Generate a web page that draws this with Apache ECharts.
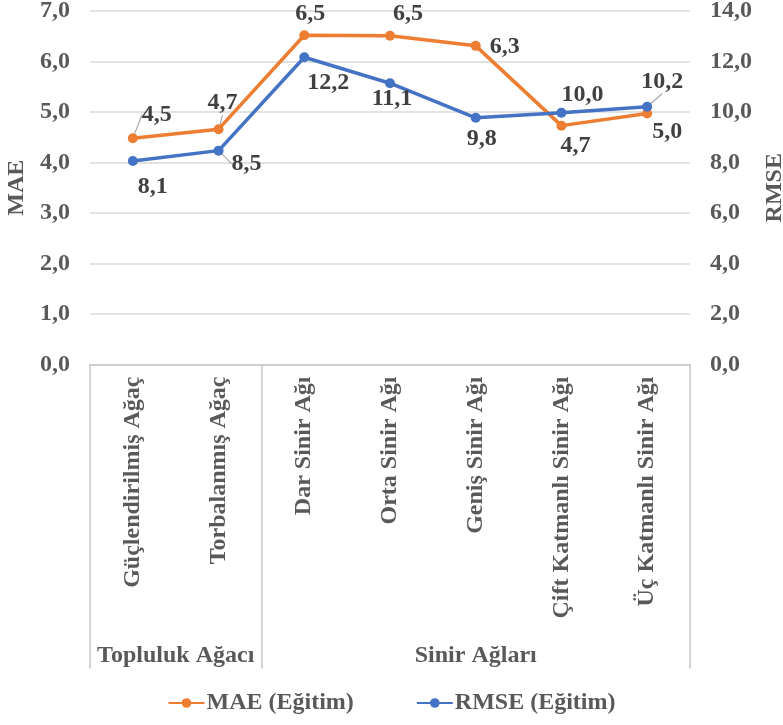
<!DOCTYPE html>
<html>
<head>
<meta charset="utf-8">
<script src="https://cdn.jsdelivr.net/npm/echarts@6/dist/echarts.min.js"></script>
<style>
  html, body { margin: 0; padding: 0; background: #fff; }
  #chart { width: 783px; height: 725px; }
</style>
</head>
<body>
<div id="chart"></div>
<script>
// Model names on the category axis
const categories = [
  'Güçlendirilmiş Ağaç', 'Torbalanmış Ağaç', 'Dar Sinir Ağı', 'Orta Sinir Ağı',
  'Geniş Sinir Ağı', 'Çift Katmanlı Sinir Ağı', 'Üç Katmanlı Sinir Ağı'
];
// Model families; each spans consecutive categories
const groupNames = ['Topluluk Ağacı', 'Sinir Ağları'];
const groupSizes = [2, 5];

// Training errors
const maeValues = [4.48, 4.66, 6.52, 6.51, 6.31, 4.73, 4.97];
const rmseValues = [8.06, 8.47, 12.17, 11.14, 9.77, 9.97, 10.21];

// Data label offsets from each point (px) and whether a leader line is drawn
const maeLabelOffsets = [[24, -23], [4, -26], [6, -21], [18, -22], [29, 1], [14, 20], [20, 18]];
const maeLeaders = [true, true, false, false, false, false, false];
const rmseLabelOffsets = [[20, 26], [28, 13], [24, 26], [2, 16], [6, 21], [21, -18], [15, -25]];
const rmseLeaders = [false, true, false, false, false, false, true];

const FONT = "'Liberation Serif', 'Times New Roman', serif";
const FONT_SIZE = 24;
const AXIS_GRAY = '#595959';
const LABEL_DARK = '#404040';
const BOX_GRAY = '#c6c6c6';

const fmt = v => Number(v).toFixed(1).replace('.', ',');

// Half-band axis used for the family labels and separators:
// 2*n+1 slots so group centres and boundaries fall on slots.
const halfSlots = categories.length * 2 + 1;
const groupAxisData = new Array(halfSlots).fill('');
const boundarySlots = [0];
let acc = 0;
groupNames.forEach((name, i) => {
  groupAxisData[acc * 2 + groupSizes[i]] = name;
  acc += groupSizes[i];
  boundarySlots.push(acc * 2);
});

function buildData(values, offsets, leaders) {
  return values.map((v, i) => ({
    value: v,
    label: { offset: offsets[i] },
    labelLine: { show: leaders[i] }
  }));
}

const labelStyle = {
  show: true,
  position: 'inside',
  align: 'center',
  verticalAlign: 'middle',
  formatter: p => fmt(p.value),
  fontFamily: FONT,
  fontWeight: 'bold',
  fontSize: FONT_SIZE,
  color: LABEL_DARK
};

const axisText = { fontFamily: FONT, fontWeight: 'bold', fontSize: FONT_SIZE, color: AXIS_GRAY };

const chart = echarts.init(document.getElementById('chart'), null, { renderer: 'canvas' });

chart.setOption({
  animation: false,
  backgroundColor: '#ffffff',
  textStyle: { fontFamily: FONT },
  grid: { left: 90, right: 93, top: 11, bottom: 360.5, containLabel: false, outerBoundsMode: 'none' },
  legend: {
    bottom: 5,
    left: 'center',
    itemWidth: 36,
    itemHeight: 12,
    itemGap: 62,
    textStyle: Object.assign({}, axisText, { padding: [0, 0, 0, -3] }),
    data: ['MAE (Eğitim)', 'RMSE (Eğitim)']
  },
  xAxis: [
    {
      type: 'category',
      data: categories,
      boundaryGap: true,
      axisLine: { show: true, lineStyle: { color: BOX_GRAY, width: 1.5 } },
      axisTick: { show: false },
      axisLabel: Object.assign({ interval: 0, rotate: 90, margin: 12 }, axisText)
    },
    {
      type: 'category',
      data: groupAxisData,
      boundaryGap: false,
      position: 'bottom',
      axisLine: { show: false },
      axisTick: {
        show: true,
        length: 304,
        interval: idx => boundarySlots.indexOf(idx) !== -1,
        lineStyle: { color: BOX_GRAY, width: 1.5 }
      },
      axisLabel: Object.assign({ interval: 0, margin: 279 }, axisText),
      splitLine: { show: false }
    }
  ],
  yAxis: [
    {
      type: 'value',
      name: 'MAE',
      nameLocation: 'middle',
      nameRotate: 90,
      nameGap: 57,
      nameTextStyle: axisText,
      min: 0, max: 7, interval: 1,
      axisLine: { show: false },
      axisTick: { show: false },
      axisLabel: Object.assign({ formatter: fmt, margin: 20 }, axisText),
      splitLine: { show: true, lineStyle: { color: '#d9d9d9', width: 1.5 } }
    },
    {
      type: 'value',
      name: 'RMSE',
      nameLocation: 'middle',
      nameRotate: 90,
      nameGap: 72,
      nameTextStyle: axisText,
      min: 0, max: 14, interval: 2,
      axisLine: { show: false },
      axisTick: { show: false },
      axisLabel: Object.assign({ formatter: fmt, margin: 20 }, axisText),
      splitLine: { show: false }
    }
  ],
  series: [
    {
      name: 'MAE (Eğitim)',
      type: 'line',
      xAxisIndex: 0,
      yAxisIndex: 0,
      data: buildData(maeValues, maeLabelOffsets, maeLeaders),
      color: '#ED7D31',
      lineStyle: { width: 3.5, color: '#ED7D31' },
      symbol: 'circle',
      symbolSize: 10,
      itemStyle: { color: '#ED7D31' },
      label: labelStyle,
      labelLine: { show: false, lineStyle: { color: '#a6a6a6', width: 1.2 } },
      z: 3
    },
    {
      name: 'RMSE (Eğitim)',
      type: 'line',
      xAxisIndex: 0,
      yAxisIndex: 1,
      data: buildData(rmseValues, rmseLabelOffsets, rmseLeaders),
      color: '#4472C4',
      lineStyle: { width: 3.5, color: '#4472C4' },
      symbol: 'circle',
      symbolSize: 10,
      itemStyle: { color: '#4472C4' },
      label: labelStyle,
      labelLine: { show: false, lineStyle: { color: '#a6a6a6', width: 1.2 } },
      z: 4
    }
  ]
});
</script>
</body>
</html>
